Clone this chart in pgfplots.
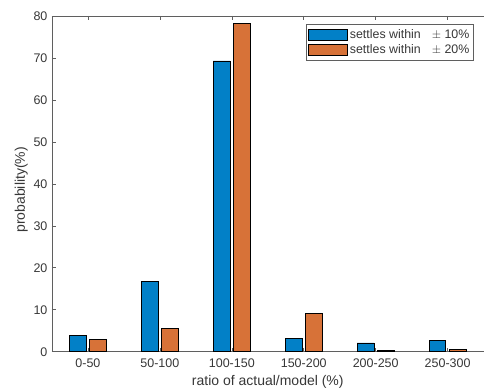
\documentclass[border=0pt]{standalone}
\usepackage{pgfplots}
\pgfplotsset{compat=1.18}
\usepackage{fontspec}
\setmainfont{Liberation Sans}
\definecolor{barblue}{RGB}{2,128,199}
\definecolor{barorange}{RGB}{215,114,56}
\definecolor{axgray}{RGB}{95,95,95}
\definecolor{labgray}{RGB}{55,55,55}

\pgfplotsset{
  patch legend/.style={
    legend image code/.code={\draw[##1] (0pt,-5.5pt) rectangle (39pt,5.5pt);}
  }
}

\begin{document}
\begin{tikzpicture}
\begin{axis}[
  scale only axis,
  width=432pt, height=336pt,
  xmin=-0.5, xmax=5.5,
  ymin=0, ymax=80,
  axis x line*=box,
  axis y line*=left,
  axis line style={axgray, line width=0.8pt},
  tick align=inside,
  major tick length=4pt,
  tick style={axgray, line width=0.6pt},
  xtick={0,1,2,3,4,5},
  xticklabels={0-50,50-100,100-150,150-200,200-250,250-300},
  ytick={0,10,...,80},
  /pgf/number format/assume math mode=true,
  ticklabel style={font=\fontsize{12.5}{14}\selectfont, text=labgray},
  xticklabel style={yshift=-4pt},
  yticklabel style={xshift=-1pt},
  xlabel={ratio of actual/model (\%)},
  ylabel={probability(\%)},
  label style={font=\fontsize{14}{16}\selectfont, text=labgray},
  xlabel style={yshift=0pt},
  ylabel style={yshift=-1pt, xshift=-6pt},
  legend style={
    at={(rel axis cs:0.977,0.976)}, anchor=north east,
    draw=axgray, line width=0.6pt,
    font=\fontsize{12.4}{14}\selectfont,
    text=labgray,
    inner xsep=2pt, inner ysep=3pt,
    row sep=1pt,
  },
  legend cell align=left,
]
% bars for each ratio bin, two tolerance levels side by side
\addplot[ybar, bar width=0.233, bar shift=-0.142,
         fill=barblue, draw=black, line width=0.7pt, patch legend]
  coordinates {(0,3.8) (1,16.8) (2,69.3) (3,3.1) (4,2.1) (5,2.7)};
\addlegendentry{settles within\hspace{11pt}$\pm$ 10\%\hspace{2pt}}

\addplot[ybar, bar width=0.233, bar shift=0.142,
         fill=barorange, draw=black, line width=0.7pt, patch legend]
  coordinates {(0,2.9) (1,5.5) (2,78.2) (3,9.2) (4,0.4) (5,0.55)};
\addlegendentry{settles within\hspace{11pt}$\pm$ 20\%\hspace{2pt}}
\end{axis}
% white margin around the axis
\path ([xshift=-52pt,yshift=-38pt]current axis.south west)
      rectangle ([yshift=16pt]current axis.north east);
\end{tikzpicture}
\end{document}
